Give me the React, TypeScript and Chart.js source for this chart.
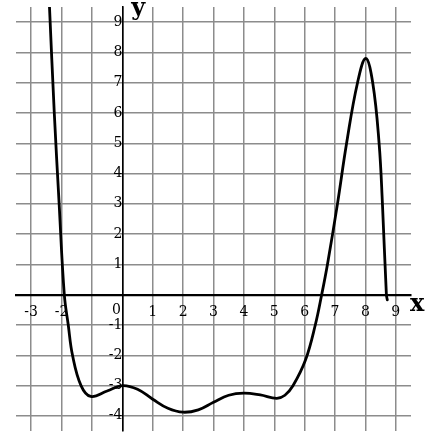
import React, { useEffect, useRef } from "react";
import { Chart, registerables } from "chart.js";

Chart.register(...registerables);

const curveX = [-2.4, -2.24, -2.08, -1.91, -1.78, -1.64, -1.36, -1.04, -0.5, 0, 0.5, 1, 1.5, 2, 2.5, 3, 3.5, 4, 4.54, 5.08, 5.35, 5.62, 6.03, 6.35, 6.56, 6.75, 7.08, 7.38, 7.74, 8.01, 8.24, 8.45, 8.56, 8.69, 8.72];
const curveY = [9.55, 6.0, 3.0, 0, -1, -2, -3, -3.36, -3.18, -3.0, -3.12, -3.45, -3.75, -3.88, -3.8, -3.55, -3.32, -3.25, -3.31, -3.42, -3.32, -3.0, -2.15, -1.0, 0, 1, 3, 5, 7, 7.8, 7, 5, 3, 0, -0.17];
const xTicks = [-3, -2, -1, 0, 1, 2, 3, 4, 5, 6, 7, 8, 9];
const yTicks = [-4, -3, -2, -1, 0, 1, 2, 3, 4, 5, 6, 7, 8, 9];
const xHiddenLabels = [-1, 0];
const yHiddenLabels = [0];
const originLabel = "0";
const X_MIN = -3.5, X_MAX = 9.5, Y_MIN = -4.5, Y_MAX = 9.5;

const FONT = "'DejaVu Serif', serif";

export default function App() {
  const ref = useRef<HTMLCanvasElement>(null);
  useEffect(() => {
    const canvas = ref.current!;
    const titles = {
      id: "axisTitles",
      afterDraw(chart: any) {
        const { ctx } = chart;
        const xs = chart.scales.x, ys = chart.scales.y;
        ctx.save();
        ctx.fillStyle = "#000";
        ctx.font = `14px ${FONT}`;
        ctx.textAlign = "center";
        ctx.textBaseline = "top";
        ctx.fillText(originLabel, xs.getPixelForValue(0) - 6, ys.getPixelForValue(0) + 9);
        ctx.font = `bold 24px ${FONT}`;
        ctx.textAlign = "left";
        ctx.textBaseline = "alphabetic";
        ctx.fillText("y", xs.getPixelForValue(0) + 9, ys.getPixelForValue(Y_MAX) + 8);
        ctx.fillText("x", xs.getPixelForValue(X_MAX) - 1, ys.getPixelForValue(0) + 16);
        ctx.restore();
      },
    };
    const chart = new Chart(canvas, {
      type: "scatter",
      data: {
        datasets: [
          {
            data: curveX.map((x, i) => ({ x, y: curveY[i] })),
            showLine: true,
            borderColor: "#000",
            borderWidth: 2.8,
            pointRadius: 0,
            tension: 0.4,
            borderCapStyle: "round",
            borderJoinStyle: "round",
          } as any,
        ],
      },
      options: {
        animation: false,
        responsive: false,
        devicePixelRatio: 1,
        layout: { padding: { left: 16, right: 17, top: 7, bottom: 6 } },
        plugins: { legend: { display: false }, tooltip: { enabled: false } },
        scales: {
          x: {
            type: "linear",
            position: { y: 0 } as any,
            min: X_MIN,
            max: X_MAX,
            afterBuildTicks: (s: any) => {
              s.ticks = xTicks.map((v) => ({ value: v }));
            },
            afterFit: (s: any) => {
              s.paddingLeft = 0; s.paddingRight = 0; s.paddingTop = 0; s.paddingBottom = 0;
            },
            grid: { color: "#8c8c8c", lineWidth: 1.5, drawTicks: false },
            border: { color: "#000", width: 2.2 },
            ticks: {
              color: "#000",
              font: { family: FONT, size: 14 },
              padding: 9,
              maxRotation: 0,
              autoSkip: false,
              callback: (v: any) => (xHiddenLabels.includes(v) ? "" : String(v)),
            },
          },
          y: {
            type: "linear",
            position: { x: 0 } as any,
            min: Y_MIN,
            max: Y_MAX,
            afterBuildTicks: (s: any) => {
              s.ticks = yTicks.map((v) => ({ value: v }));
            },
            afterFit: (s: any) => {
              s.paddingLeft = 0; s.paddingRight = 0; s.paddingTop = 0; s.paddingBottom = 0;
            },
            grid: { color: "#8c8c8c", lineWidth: 1.5, drawTicks: false },
            border: { color: "#000", width: 1.6 },
            ticks: {
              color: "#000",
              font: { family: FONT, size: 14 },
              padding: 7,
              autoSkip: false,
              callback: (v: any) => (yHiddenLabels.includes(v) ? "" : String(v)),
            },
          },
        },
      },
      plugins: [titles],
    });
    return () => chart.destroy();
  }, []);
  return (
    <div style={{ position: "absolute", left: 0, top: 0, width: 428, height: 437 }}>
      <canvas ref={ref} width={428} height={437} style={{ width: 428, height: 437, display: "block" }} />
    </div>
  );
}
